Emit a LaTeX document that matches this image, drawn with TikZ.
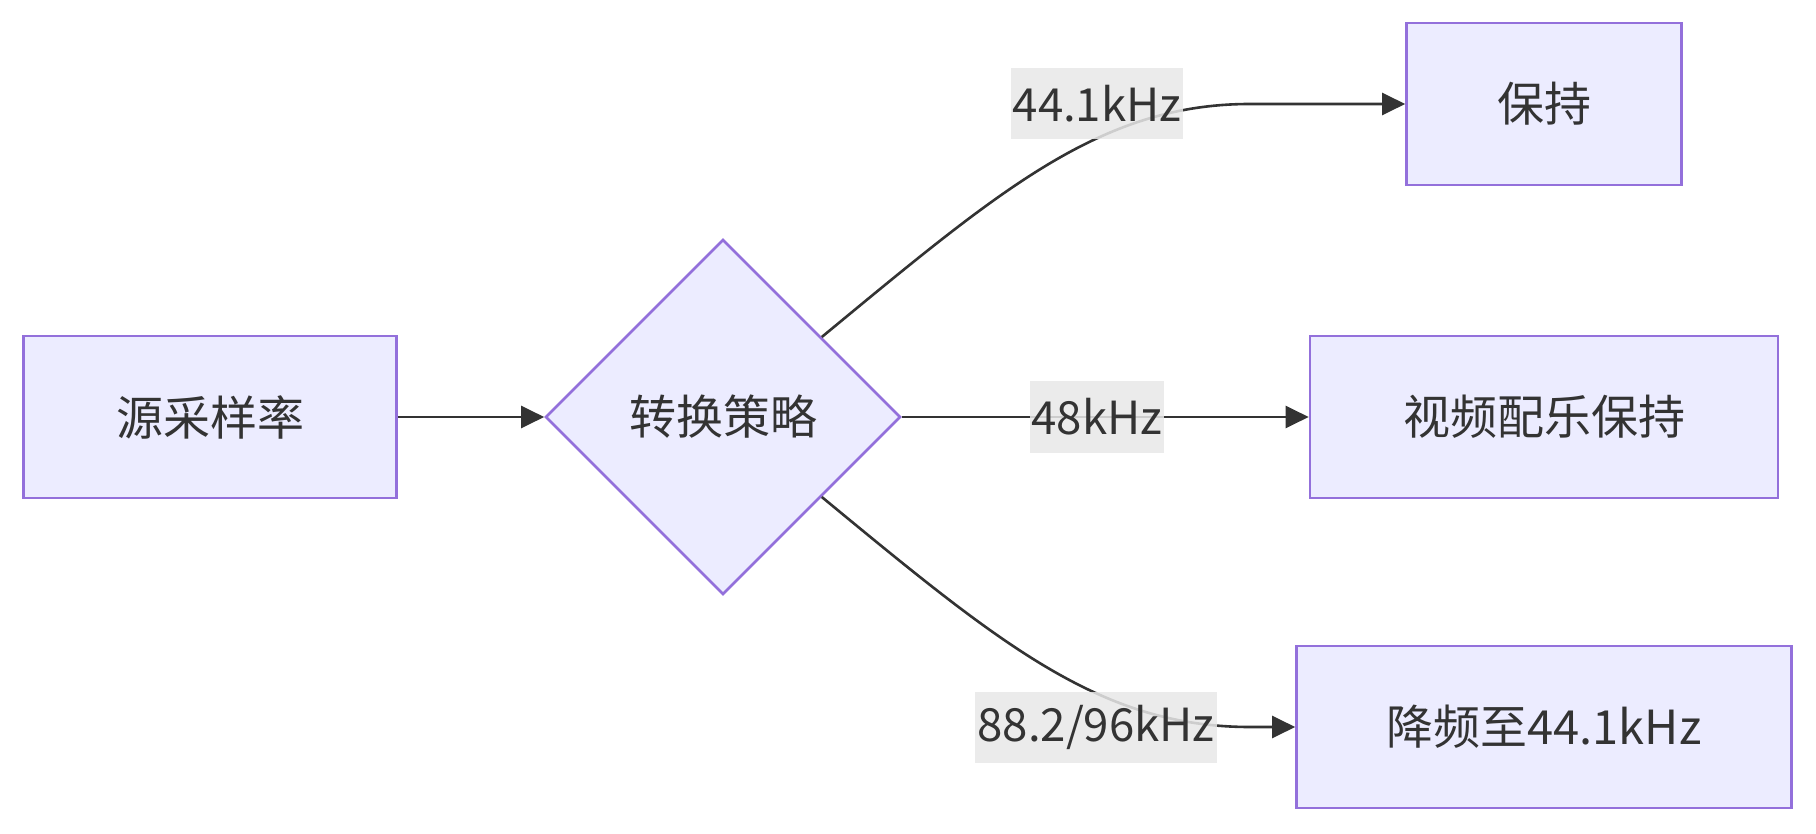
\documentclass[tikz,border=0pt]{standalone}
\usepackage{fontspec}
\setmainfont{Noto Sans CJK SC}
\usetikzlibrary{shapes.geometric,arrows.meta}
\definecolor{nodefill}{HTML}{ECECFF}
\definecolor{nodestroke}{HTML}{9370DB}
\definecolor{ink}{HTML}{333333}
\definecolor{labelbg}{HTML}{E8E8E8}
\begin{document}
\begin{tikzpicture}[x=0.5pt,y=-0.5pt,
  font=\fontsize{23.5pt}{28pt}\selectfont,
  box/.style={draw=nodestroke,fill=nodefill,line width=1.35pt,text=ink,minimum height=81pt,inner sep=0pt},
  decision/.style={diamond,aspect=1,draw=nodestroke,fill=nodefill,line width=1.35pt,text=ink,minimum width=177.5pt,minimum height=177.5pt,inner sep=0pt},
  edge/.style={draw=ink,line width=1.3pt,-{Triangle[length=11.5pt,width=11pt]}},
  elabel/.style={font=\fontsize{22.8pt}{27pt}\selectfont,fill=labelbg,fill opacity=0.85,text opacity=1,text=ink,inner xsep=1pt,inner ysep=0pt,minimum height=35.5pt}]
\useasboundingbox[fill=white] (0,0) rectangle (1816,834);
\node[box,minimum width=186.5pt] (src) at (210,417) {源采样率};
\node[decision] (dec) at (723,417) {转换策略};
\node[box,minimum width=137.5pt] (keep) at (1544,104) {保持};
\node[box,minimum width=234pt] (video) at (1544,417) {视频配乐保持};
\node[box,minimum width=247.5pt] (down) at (1544,727) {降频至44.1kHz};
\draw[edge] (src.east) -- (dec.west);
\draw[edge] (dec.39) .. controls (1000,190) and (1100,104) .. (1250,104) -- (keep.west);
\draw[edge] (dec.east) -- (video.west);
\draw[edge] (dec.-39) .. controls (1000,644) and (1100,727) .. (1250,727) -- (down.west);
\node[elabel] (l1) at (1097,104) {44.1kHz};
\node[elabel] (l2) at (1097,417) {48kHz};
\node[elabel] (l3) at (1096,727) {88.2/96kHz};
\end{tikzpicture}
\end{document}
